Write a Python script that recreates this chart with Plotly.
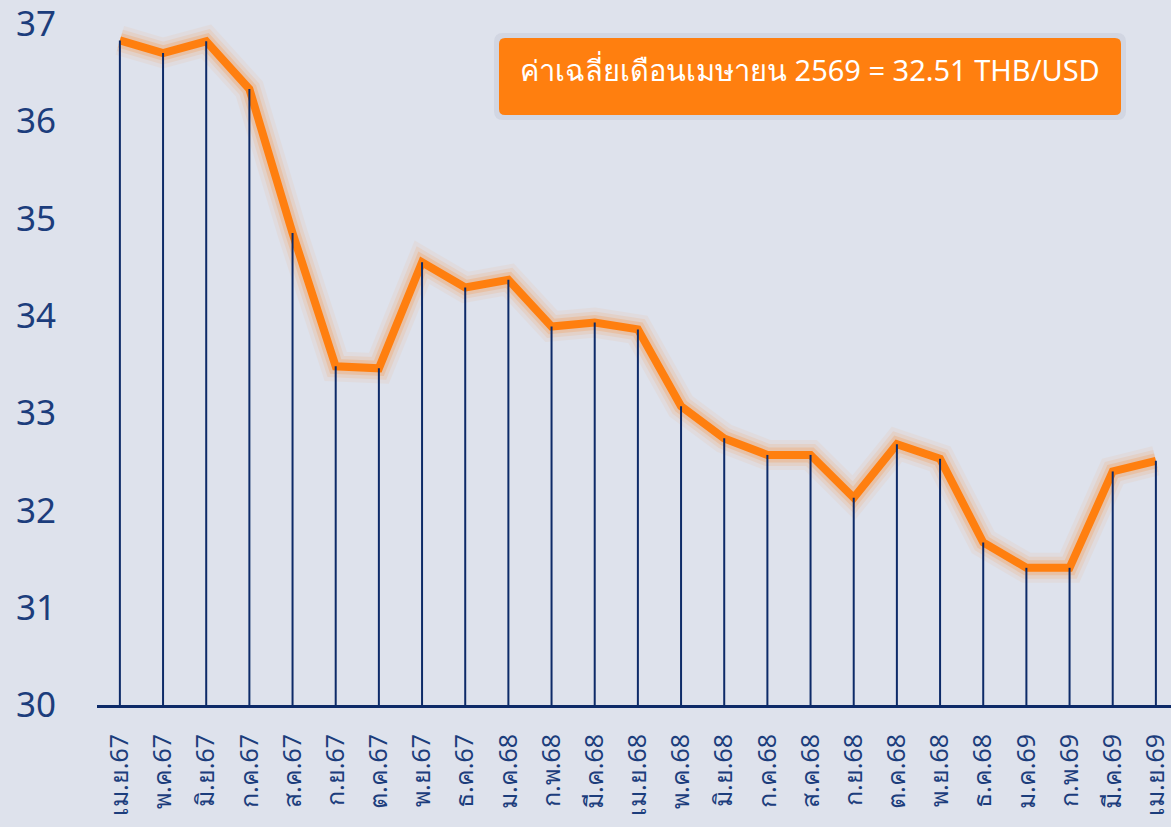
import plotly.graph_objects as go

months = ["เม.ย.67", "พ.ค.67", "มิ.ย.67", "ก.ค.67", "ส.ค.67", "ก.ย.67", "ต.ค.67",
          "พ.ย.67", "ธ.ค.67", "ม.ค.68", "ก.พ.68", "มี.ค.68", "เม.ย.68", "พ.ค.68",
          "มิ.ย.68", "ก.ค.68", "ส.ค.68", "ก.ย.68", "ต.ค.68", "พ.ย.68", "ธ.ค.68",
          "ม.ค.69", "ก.พ.69", "มี.ค.69", "เม.ย.69"]
rate = [36.83, 36.70, 36.82, 36.33, 34.85, 33.48, 33.46, 34.55, 34.29, 34.37,
        33.89, 33.93, 33.86, 33.07, 32.74, 32.57, 32.57, 32.13, 32.68, 32.53,
        31.67, 31.41, 31.41, 32.40, 32.51]
y_ticks = [30, 31, 32, 33, 34, 35, 36, 37]
note = "ค่าเฉลี่ยเดือนเมษายน 2569 = 32.51 THB/USD"

BG = "#dee2ec"
NAVY = "#0d2a68"
TXT = "#1c3d7c"
ORANGE = "#ff7f0f"
FONT = "Noto Sans, sans-serif"

W, H = 1171, 827
ML, MB = 97, 122
PW, PH = W - ML, H - MB

fig = go.Figure()

# soft glow under the line
for w, op in [(30, 0.06), (22, 0.1), (15, 0.18)]:
    fig.add_trace(go.Scatter(
        x=months, y=rate, mode="lines",
        line=dict(color=ORANGE, width=w), opacity=op,
        hoverinfo="skip", showlegend=False
    ))

fig.add_trace(go.Scatter(
    x=months, y=rate, mode="lines",
    line=dict(color=ORANGE, width=8),
    showlegend=False
))

# drop lines from each point to the axis
fig.add_trace(go.Scatter(
    x=months, y=rate, mode="markers",
    marker=dict(size=1, color=NAVY, opacity=0),
    error_y=dict(type="data", symmetric=False, array=[0] * len(rate),
                 arrayminus=[v - y_ticks[0] for v in rate],
                 color=NAVY, thickness=2, width=0),
    showlegend=False, hoverinfo="skip"
))


def px_x(px):
    return (px - ML) / PW


def px_y(py):
    return (PH - py) / PH


def rounded_box(x0, y0, x1, y1, r):
    rx, ry = r / PW, r / PH
    a, b, c, d = px_x(x0), px_y(y1), px_x(x1), px_y(y0)
    return (f"M {a+rx},{b} L {c-rx},{b} Q {c},{b} {c},{b+ry} "
            f"L {c},{d-ry} Q {c},{d} {c-rx},{d} L {a+rx},{d} "
            f"Q {a},{d} {a},{d-ry} L {a},{b+ry} Q {a},{b} {a+rx},{b} Z")


fig.add_shape(type="path", xref="paper", yref="paper",
              path=rounded_box(494, 33, 1126, 120, 9),
              fillcolor="rgba(120,130,160,0.12)", line=dict(width=0))
fig.add_shape(type="path", xref="paper", yref="paper",
              path=rounded_box(499, 38, 1121, 115, 6),
              fillcolor=ORANGE, line=dict(width=0))
fig.add_annotation(
    x=px_x(810), y=px_y(48), xref="paper", yref="paper",
    text=note, showarrow=False,
    font=dict(family=FONT, size=29, color="white")
)

fig.update_xaxes(
    type="category", range=[-0.53, 24.35],
    showline=True, linecolor=NAVY, linewidth=3,
    showgrid=False, zeroline=False, ticks="",
    tickangle=-90, ticklabelstandoff=16,
    tickfont=dict(family=FONT, size=25, color=TXT)
)
fig.update_yaxes(
    range=[30, 37.245], tickvals=y_ticks,
    showline=False, showgrid=False, zeroline=False, ticks="",
    ticklabelstandoff=40, ticklabeloverflow="allow",
    tickfont=dict(family=FONT, size=35, color=TXT)
)
fig.update_layout(
    width=W, height=H,
    margin=dict(l=ML, r=0, t=0, b=MB),
    paper_bgcolor=BG, plot_bgcolor=BG,
    showlegend=False
)

fig.write_html("out.html", config={"displayModeBar": False},
               post_script="document.body.style.margin='0';"
               "document.body.style.overflow='hidden';"
               "document.body.style.background='" + BG + "';")
